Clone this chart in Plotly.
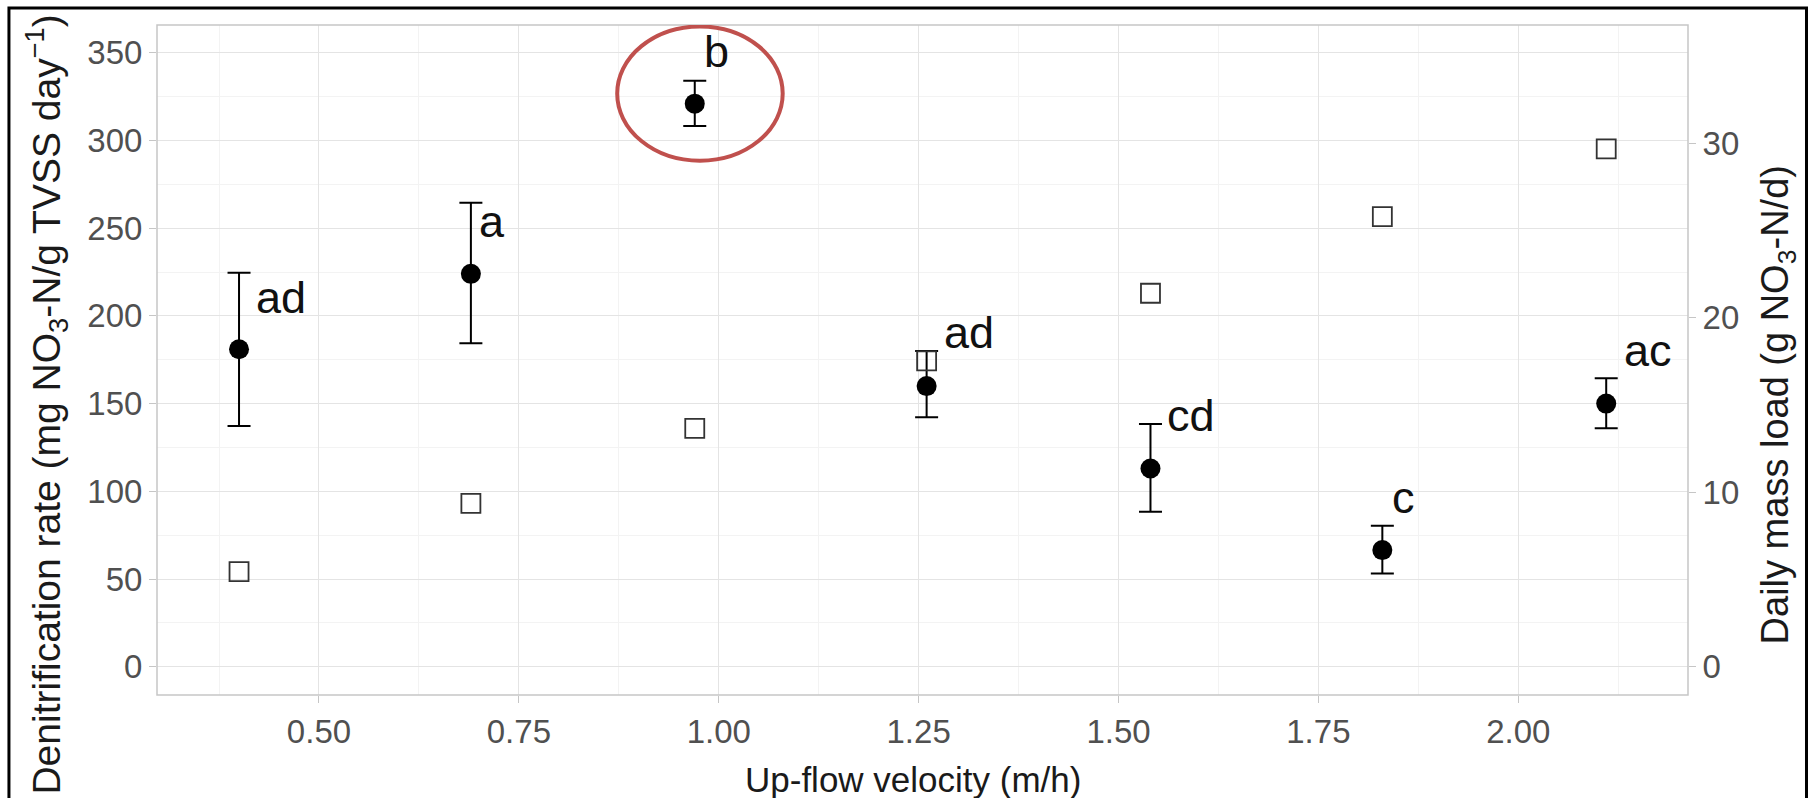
import plotly.graph_objects as go

# ---- data ----
velocity = [0.40, 0.69, 0.97, 1.26, 1.54, 1.83, 2.11]
denit_rate = [181.0, 224.0, 321.0, 160.0, 113.0, 66.5, 150.0]
denit_upper = [224.6, 264.5, 334.0, 180.0, 138.4, 80.4, 164.4]
denit_lower = [137.2, 184.4, 308.3, 142.2, 88.4, 53.2, 135.9]
mass_load = [5.45, 9.36, 13.66, 17.52, 21.4, 25.79, 29.67]
letters = ["ad", "a", "b", "ad", "cd", "c", "ac"]
letter_x = [0.453, 0.716, 0.997, 1.313, 1.591, 1.856, 2.162]
letter_y = [200.5, 243.7, 340.6, 180.6, 133.2, 86.5, 170.1]

x_ticks = [0.50, 0.75, 1.00, 1.25, 1.50, 1.75, 2.00]
y_ticks = [0, 50, 100, 150, 200, 250, 300, 350]
y2_ticks = [0, 10, 20, 30]

err_plus = [u - v for u, v in zip(denit_upper, denit_rate)]
err_minus = [v - l for v, l in zip(denit_rate, denit_lower)]

FONT = "Liberation Sans, Arial, sans-serif"
TICK_COLOR = "#505050"
GRID = "#e4e4e4"
MINOR = "#f3f3f3"

fig = go.Figure()

fig.add_trace(go.Scatter(
    x=velocity, y=mass_load, yaxis="y2", mode="markers",
    marker=dict(symbol="square-open", size=19, color="#333333",
                line=dict(width=1.8, color="#333333")),
    showlegend=False, hoverinfo="skip",
))

fig.add_trace(go.Scatter(
    x=velocity, y=denit_rate, mode="markers",
    marker=dict(symbol="circle", size=20, color="black"),
    error_y=dict(type="data", symmetric=False, array=err_plus,
                 arrayminus=err_minus, color="black", thickness=2,
                 width=11.5),
    showlegend=False, hoverinfo="skip",
))

annotations = []
for t, lx, ly in zip(letters, letter_x, letter_y):
    annotations.append(dict(
        x=lx, y=ly, xref="x", yref="y", text=t, showarrow=False,
        xanchor="center", yanchor="bottom", yshift=-10,
        font=dict(family="Liberation Sans Narrow, Liberation Sans, Arial", size=45, color="#111111"),
    ))

# axis titles
annotations.append(dict(
    x=-0.0718, y=0.4336, xref="paper", yref="paper",
    text="Denitrification rate (mg NO<sub>3</sub>-N/g TVSS day<sup>\u22121</sup>)",
    textangle=-90, showarrow=False, xanchor="center", yanchor="middle",
    font=dict(family=FONT, size=39, color="#1a1a1a"),
))
annotations.append(dict(
    x=1.0594, y=0.4336, xref="paper", yref="paper",
    text="Daily mass load (g NO<sub>3</sub>-N/d)",
    textangle=-90, showarrow=False, xanchor="center", yanchor="middle",
    font=dict(family=FONT, size=38, color="#1a1a1a"),
))
annotations.append(dict(
    x=0.4938, y=-0.126, xref="paper", yref="paper",
    text="Up-flow velocity (m/h)", showarrow=False,
    xanchor="center", yanchor="middle",
    font=dict(family=FONT, size=35, color="#1a1a1a"),
))

shapes = [
    # panel border
    dict(type="rect", xref="paper", yref="paper", x0=0, x1=1, y0=0, y1=1,
         line=dict(color="#c6c6c6", width=1.5), layer="above"),
    # outer black frame
    dict(type="rect", xref="paper", yref="paper", x0=-0.0967, x1=1.0774,
         y0=-0.25, y1=1.0254, line=dict(color="black", width=3)),
    # red highlight ellipse
    dict(type="circle", xref="x", yref="y", x0=0.873, x1=1.080,
         y0=288.5, y1=365.0, line=dict(color="#c0504d", width=4)),
]

fig.update_layout(
    width=1810, height=798,
    margin=dict(l=157, r=122, t=25, b=103),
    paper_bgcolor="white", plot_bgcolor="white",
    font=dict(family=FONT),
    xaxis=dict(
        range=[0.2974, 2.2123], tickvals=x_ticks,
        ticktext=[f"{v:.2f}" for v in x_ticks],
        showgrid=True, gridcolor=GRID, gridwidth=1.2,
        minor=dict(dtick=0.125, tick0=0.5, showgrid=True, gridcolor=MINOR, gridwidth=1),
        ticks="outside", ticklen=7, tickcolor="#c6c6c6", tickwidth=1.2,
        tickfont=dict(size=33, color=TICK_COLOR, family=FONT),
        zeroline=False, showline=False,
    ),
    yaxis=dict(
        range=[-16.13, 365.85], tickvals=y_ticks,
        showgrid=True, gridcolor=GRID, gridwidth=1.2,
        minor=dict(dtick=25, tick0=0, showgrid=True, gridcolor=MINOR, gridwidth=1),
        ticks="outside", ticklen=7, tickcolor="#c6c6c6", tickwidth=1.2,
        tickfont=dict(size=33, color=TICK_COLOR, family=FONT),
        zeroline=False, showline=False,
    ),
    yaxis2=dict(
        range=[-1.62, 36.77], tickvals=y2_ticks, overlaying="y", side="right",
        showgrid=False, ticks="outside", ticklen=7, tickcolor="#c6c6c6",
        tickwidth=1.2, tickfont=dict(size=33, color=TICK_COLOR, family=FONT),
        zeroline=False, showline=False,
    ),
    annotations=annotations,
    shapes=shapes,
)

fig.write_html("out.html")
